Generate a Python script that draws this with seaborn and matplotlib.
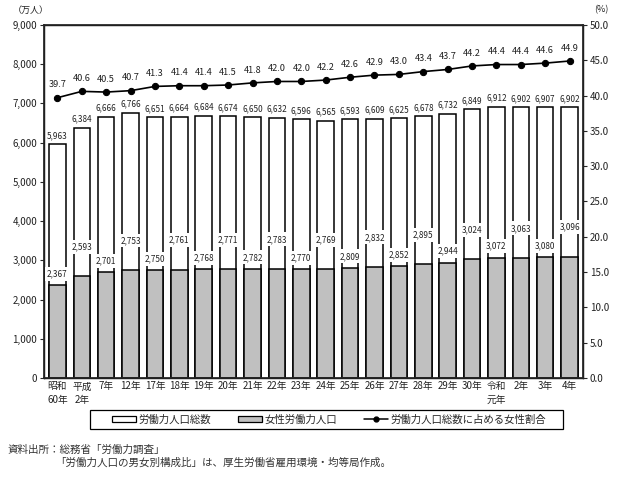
import matplotlib
matplotlib.use('Agg')
import matplotlib.pyplot as plt
from matplotlib.patches import Patch, Rectangle
from matplotlib.lines import Line2D
from matplotlib.ticker import FuncFormatter, FixedLocator
import numpy as np
import pandas as pd
import seaborn as sns

sns.set_theme(style='white')
plt.rcParams['font.family'] = ['Noto Sans CJK JP', 'DejaVu Sans']

# data
years = ['昭和\n60年', '平成\n2年', '7年', '12年', '17年', '18年', '19年', '20年', '21年', '22年', '23年',
         '24年', '25年', '26年', '27年', '28年', '29年', '30年', '令和\n元年', '2年', '3年', '4年']
total = [5963, 6384, 6666, 6766, 6651, 6664, 6684, 6674, 6650, 6632, 6596,
         6565, 6593, 6609, 6625, 6678, 6732, 6849, 6912, 6902, 6907, 6902]
female = [2367, 2593, 2701, 2753, 2750, 2761, 2768, 2771, 2782, 2783, 2770,
          2769, 2809, 2832, 2852, 2895, 2944, 3024, 3072, 3063, 3080, 3096]
ratio = [39.7, 40.6, 40.5, 40.7, 41.3, 41.4, 41.4, 41.5, 41.8, 42.0, 42.0,
         42.2, 42.6, 42.9, 43.0, 43.4, 43.7, 44.2, 44.4, 44.4, 44.6, 44.9]

df = pd.DataFrame({'year': years, 'total': total, 'female': female, 'ratio': ratio})
n = len(df)
txt = '#222222'

fig = plt.figure(figsize=(6.34, 4.83), dpi=100)
ax = fig.add_axes([44/634, 1-378/483, (583-44)/634, (378-25)/483])

sns.barplot(data=df, x='year', y='total', order=years, color='white', edgecolor='black',
            linewidth=1.1, width=0.68, saturation=1, ax=ax)
sns.barplot(data=df, x='year', y='female', order=years, color='#c0c0c0', edgecolor='black',
            linewidth=1.1, width=0.68, saturation=1, ax=ax)

ax.set_ylim(0, 9000)
ax.set_xlim(-0.55, n - 0.45)
ax.set_yticks(np.arange(0, 9001, 1000))
ax.yaxis.set_major_formatter(FuncFormatter(lambda v, p: f'{int(v):,}'))
ax.set_xlabel('')
ax.set_ylabel('')
ax.set_xticks(range(n))
ax.set_xticklabels(years, fontsize=7, linespacing=1.45, va='top', color=txt)
ax.xaxis.set_minor_locator(FixedLocator(np.arange(-0.5, n, 1.0)))
ax.tick_params(axis='x', which='major', length=0, pad=2.5)
ax.tick_params(axis='x', which='minor', length=2, width=0.8, direction='out', color='#555555')
ax.tick_params(axis='y', length=3, width=0.8, direction='out', labelsize=7, pad=2, left=True,
               labelcolor=txt)
for s in ax.spines.values():
    s.set_color('black')
    s.set_linewidth(1.0)

# value labels for totals
for i, v in enumerate(total):
    ax.annotate(f'{v:,}', (i, v), xytext=(0, 3), textcoords='offset points',
                ha='center', va='bottom', fontsize=5.9, color=txt)

# value labels for female, alternating low/high with white boxes
for i, v in enumerate(female):
    off = 5 if i % 2 == 0 else 18
    ax.annotate(f'{v:,}', (i, v), xytext=(0, off), textcoords='offset points',
                ha='center', va='bottom', fontsize=5.9, color=txt,
                bbox=dict(boxstyle='square,pad=0.3', fc='white', ec='none'))

ax2 = ax.twinx()
sns.lineplot(x=np.arange(n), y=ratio, color='black', marker='o', markersize=4.5,
             markeredgecolor='black', linewidth=1.2, ax=ax2)
ax2.set_ylim(0, 50)
ax2.set_yticks(np.arange(0, 50.1, 5))
ax2.yaxis.set_major_formatter(FuncFormatter(lambda v, p: f'{v:.1f}'))
ax2.tick_params(axis='y', length=3, width=0.8, direction='out', labelsize=7, pad=2, right=True,
                labelcolor=txt)
for i, v in enumerate(ratio):
    ax2.annotate(f'{v:.1f}', (i, v), xytext=(0, 6), textcoords='offset points',
                 ha='center', va='bottom', fontsize=6.6, color=txt)

fig.text(13/634, 1-10/483, '（万人）', fontsize=6.5, ha='left', va='center', color=txt)
fig.text(594/634, 1-10/483, '(%)', fontsize=6.5, ha='left', va='center', color=txt)

# legend, with its frame drawn separately so it can be wider than the entries
handles = [Patch(facecolor='white', edgecolor='black', linewidth=0.9, label='労働力人口総数'),
           Patch(facecolor='#c0c0c0', edgecolor='black', linewidth=0.9, label='女性労働力人口'),
           Line2D([0], [0], color='black', marker='o', markersize=3.5, linewidth=1.1,
                  label='労働力人口総数に占める女性割合')]
fig.legend(handles=handles, loc='center', bbox_to_anchor=(329/634, 1-419.5/483), ncol=3,
           fontsize=7.5, frameon=False, handlelength=2.3, handleheight=0.5,
           columnspacing=2.6, handletextpad=0.2, borderpad=0.35, borderaxespad=0)
fig.add_artist(Rectangle((90/634, 1-429/483), 473/634, 19/483, transform=fig.transFigure,
                         fill=False, edgecolor='black', linewidth=0.9))

fig.text(8/634, 1-450/483, '資料出所：総務省「労働力調査」', fontsize=7.6, ha='left', va='center',
         color='#333333')
fig.text(55/634, 1-463/483, '「労働力人口の男女別構成比」は、厚生労働省雇用環境・均等局作成。', fontsize=7.6,
         ha='left', va='center', color='#333333')

fig.savefig('out.png', dpi=100)
